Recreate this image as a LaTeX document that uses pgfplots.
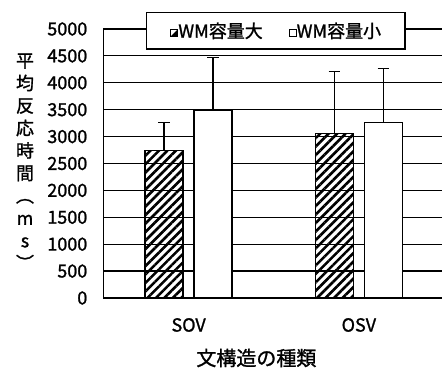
\documentclass[border=0pt]{standalone}
\usepackage{fontspec}
\setmainfont{Noto Sans CJK JP}[AutoFakeBold=1.2]
\usepackage{pgfplots}
\pgfplotsset{compat=1.18}
\usetikzlibrary{patterns.meta}
\begin{document}
\begin{tikzpicture}
\begin{axis}[
  name=ax,
  scale only axis,
  width=340.5pt, height=269pt,
  xmin=-0.5, xmax=1.5,
  ymin=0, ymax=5000,
  axis lines=left,
  axis line style={-, line width=1.4pt},
  xtick={0,1},
  xticklabels={SOV,OSV},
  ytick={0,500,...,5000},
  major tick length=0pt,
  ymajorgrids,
  grid style={black, line width=1.2pt},
  /pgf/number format/assume math mode=true,
  /pgf/number format/1000 sep={},
  tick label style={font=\bfseries\fontsize{18}{20}\selectfont},
  yticklabel style={anchor=east, inner sep=0pt, xshift=-16pt},
  xticklabel style={anchor=center, inner sep=0pt, yshift=-27pt},
  xlabel={文構造の種類},
  xlabel style={font=\bfseries\fontsize{20}{22}\selectfont, at={(axis description cs:0.449,-0.223)}, anchor=center},
  ylabel={平\\均\\反\\応\\時\\間\\︵\\m\\s\\︶},
  ylabel style={font=\bfseries\fontsize{18}{22.5}\selectfont, rotate=-90, align=center, at={(axis description cs:-0.2305,0.507)}, anchor=center},
  ybar, bar width=38pt,
  legend columns=2,
  legend style={at={(axis description cs:0.506,0.993)}, anchor=center,
    draw=black, line width=1.4pt, fill=white,
    font=\bfseries\fontsize{18}{20}\selectfont,
    inner xsep=22pt, inner ysep=8pt,
    /tikz/every even column/.append style={column sep=22pt}},
  legend image code/.code={},
]
\addplot+[bar shift=-24.5pt, draw=black, line width=1.3pt,
  pattern={Lines[angle=45, distance=6pt, line width=2.6pt]}, pattern color=black,
  error bars/.cd, y dir=plus, y explicit,
  error bar style={black, line width=1.3pt},
  error mark options={rotate=90, black, mark size=5.75pt, line width=1.3pt}]
  coordinates {(0,2745) +- (0,515) (1,3060) +- (0,1145)};
\addplot+[bar shift=24.5pt, draw=black, line width=1.3pt, fill=white,
  error bars/.cd, y dir=plus, y explicit,
  error bar style={black, line width=1.3pt},
  error mark options={rotate=90, black, mark size=5.75pt, line width=1.3pt}]
  coordinates {(0,3495) +- (0,970) (1,3265) +- (0,1005)};
\addlegendentry{\tikz[baseline=-0.5ex]{\draw[line width=0.9pt] (0,-3.5pt) rectangle (7pt,3.5pt); \fill (0,-3.5pt) -- (7pt,-3.5pt) -- (7pt,3.5pt) -- cycle;}WM容量大}
\addlegendentry{\tikz[baseline=-0.5ex]{\draw[line width=0.9pt] (0,-3.5pt) rectangle (7pt,3.5pt);}WM容量小}
\end{axis}
\pgfresetboundingbox
\useasboundingbox (ax.south west) ++(-103.5pt,-71pt) rectangle ++(442pt,369pt);
\end{tikzpicture}
\end{document}
